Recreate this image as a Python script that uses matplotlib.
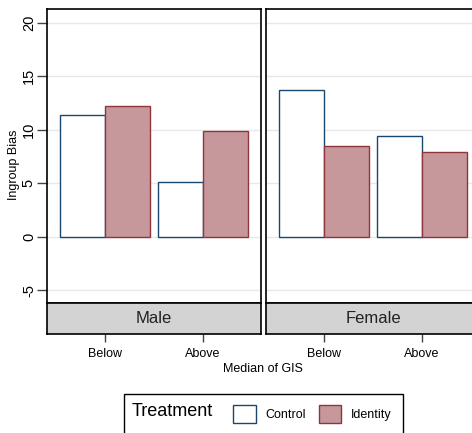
import numpy as np
import matplotlib.pyplot as plt
from matplotlib.patches import Patch, Rectangle

plt.rcParams['font.family'] = ['Liberation Sans', 'DejaVu Sans']
plt.rcParams['axes.unicode_minus'] = False

panels = ["Male", "Female"]
groups = ["Below", "Above"]
treatments = ["Control", "Identity"]
control = {"Male": [11.4, 5.15], "Female": [13.75, 9.45]}
identity = {"Male": [12.2, 9.85], "Female": [8.45, 7.9]}

navy = '#1a476f'
maroon = '#90353b'
fill_id = '#c6989b'
W, H = 472, 433

fig = plt.figure(figsize=(W / 100, H / 100), dpi=100)

def fx(px):
    return px / W

def fy(py):
    return 1 - py / H

lefts = [47, 266]
pw = 214
top, bot, sbot = 9, 303, 334
ind = np.arange(len(groups))
width = 0.455

for k, name in enumerate(panels):
    x0 = lefts[k]
    ax = fig.add_axes([fx(x0), fy(bot), fx(pw), fy(top) - fy(bot)])
    ax.bar(ind - width / 2, control[name], width, align='center',
           facecolor='white', edgecolor=navy, linewidth=1.0, zorder=3)
    ax.bar(ind + width / 2, identity[name], width, align='center',
           facecolor=fill_id, edgecolor=maroon, linewidth=1.0, zorder=3)
    ax.set_xlim(-0.59, 1.59)
    ax.set_ylim(-6.2, 21.3)
    ax.set_yticks([-5, 0, 5, 10, 15, 20])
    ax.grid(axis='y', color='#e8e8e8', linewidth=1.0, zorder=0)
    ax.set_xticks([])
    for s in ax.spines.values():
        s.set_color('black')
        s.set_linewidth(1.2)
    if k == 0:
        ax.tick_params(axis='y', direction='out', length=7, width=1,
                       color='#444444', labelsize=10.5, pad=1)
        for t in ax.get_yticklabels():
            t.set_rotation(90)
            t.set_va('center')
    else:
        ax.tick_params(axis='y', left=False, labelleft=False)

    sx = fig.add_axes([fx(x0), fy(sbot), fx(pw), fy(bot) - fy(sbot)])
    sx.set_facecolor('#d3d3d3')
    sx.set_xlim(-0.59, 1.59)
    sx.set_ylim(0, 1)
    sx.set_yticks([])
    sx.set_xticks(ind)
    sx.set_xticklabels(groups, fontsize=9)
    sx.tick_params(axis='x', direction='out', length=6, width=1,
                   color='#444444', pad=4)
    for s in sx.spines.values():
        s.set_color('black')
        s.set_linewidth(1.2)
    sx.text(0.5, 0.5, name, transform=sx.transAxes, ha='center',
            va='center', fontsize=12, color='#222222')

fig.text(fx(14), fy(165), "Ingroup Bias", rotation=90, ha='center',
         va='center', fontsize=9)
fig.text(fx(263), fy(369), "Median of GIS", ha='center', va='center',
         fontsize=9)

# legend box
fig.patches.append(Rectangle((fx(124), fy(440)), fx(403 - 124), fy(394) - fy(440),
                             transform=fig.transFigure, facecolor='white',
                             edgecolor='black', linewidth=1.0))
fig.text(fx(132), fy(411), "Treatment", ha='left', va='center', fontsize=13)
handles = [Patch(facecolor='white', edgecolor=navy, linewidth=1.0),
           Patch(facecolor=fill_id, edgecolor=maroon, linewidth=1.0)]
fig.legend(handles, treatments, loc='center left',
           bbox_to_anchor=(fx(222), fy(414)), ncol=2, frameon=False,
           fontsize=9, handlelength=1.8, handleheight=1.8, columnspacing=1.0,
           handletextpad=0.8)

fig.savefig("out.png", dpi=100)
